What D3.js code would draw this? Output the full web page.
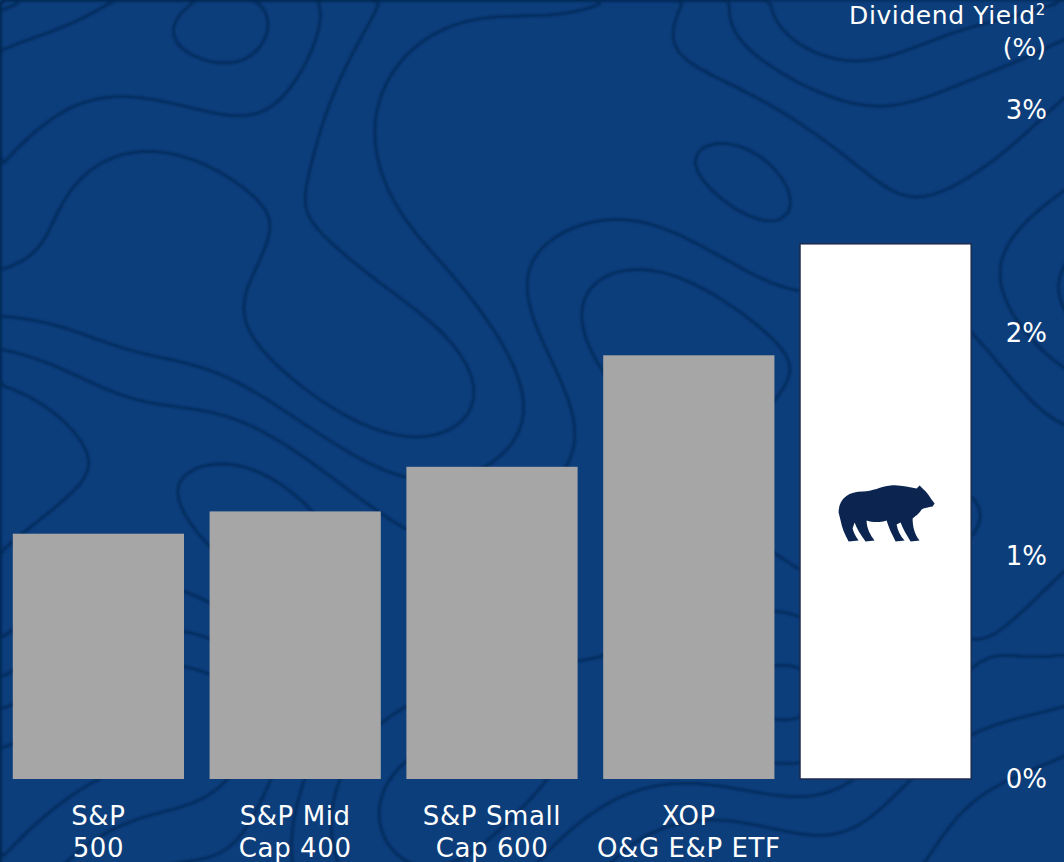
<!DOCTYPE html>
<html>
<head>
<meta charset="utf-8">
<script src="https://cdn.jsdelivr.net/npm/d3@7"></script>
<style>
  html, body { margin: 0; padding: 0; background: #0c3e7c; }
  svg { display: block; }
  text { font-family: "DejaVu Sans", "Noto Sans", sans-serif; fill: #ffffff; }
</style>
</head>
<body>
<svg id="chart" width="1064" height="862"></svg>
<script>
// ---- Data ----
const categories = ["S&P 500", "S&P Mid Cap 400", "S&P Small Cap 600", "XOP O&G E&P ETF", "Highlight"];
const labelLines = [["S&P", "500"], ["S&P Mid", "Cap 400"], ["S&P Small", "Cap 600"], ["XOP", "O&G E&P ETF"], ["", ""]];
const yieldValues = [1.1, 1.2, 1.4, 1.9, 2.4];
const tickValues = [0, 1, 2, 3];
const tickLabels = ["0%", "1%", "2%", "3%"];

const W = 1064, H = 862;
const FONT = "\"DejaVu Sans\", \"Noto Sans\", sans-serif";
const svg = d3.select("#chart");

// ---- Background with decorative topographic contours ----
svg.append("rect").attr("width", W).attr("height", H).attr("fill", "#0c3e7c");
const defs = svg.append("defs");
defs.append("filter").attr("id", "soft")
  .append("feGaussianBlur").attr("stdDeviation", 0.9);
(function () {
  const nx = 134, ny = 109, cell = 8;
  const vals = new Array(nx * ny);
  for (let j = 0; j < ny; j++) {
    for (let i = 0; i < nx; i++) {
      const x = i * cell, y = j * cell;
      vals[j * nx + i] =
        Math.sin(x * 0.006 + Math.sin(y * 0.009) * 1.8) +
        Math.cos(y * 0.008 - x * 0.003 + Math.sin(x * 0.012) * 0.9) * 0.9 +
        Math.sin((x + y) * 0.004) * 0.6;
    }
  }
  const contours = d3.contours().size([nx, ny]).thresholds(d3.range(-2.0, 2.4, 0.6))(vals);
  svg.append("g")
    .attr("filter", "url(#soft)")
    .append("g")
    .attr("transform", `scale(${cell})`)
    .selectAll("path")
    .data(contours)
    .join("path")
    .attr("d", d3.geoPath())
    .attr("fill", "none")
    .attr("stroke", "#072a55")
    .attr("stroke-opacity", 0.75)
    .attr("stroke-width", 3.2 / cell);
})();

// ---- Scales ----
const x = d3.scaleBand()
  .domain(categories)
  .range([0, 984])
  .paddingInner(0.13)
  .paddingOuter(0.065);

const y = d3.scaleLinear().domain([0, 3]).range([779, 110]);

// ---- Bars ----
const bars = svg.append("g");
bars.selectAll("rect")
  .data(categories)
  .join("rect")
  .attr("x", d => x(d))
  .attr("y", (d, i) => y(yieldValues[i]))
  .attr("width", x.bandwidth())
  .attr("height", (d, i) => y(0) - y(yieldValues[i]))
  .attr("fill", (d, i) => i === categories.length - 1 ? "#ffffff" : "#a6a6a6")
  .attr("stroke", (d, i) => i === categories.length - 1 ? "#1b2b4d" : "none")
  .attr("stroke-width", 1.5);

// ---- Bear icon inside highlighted bar ----
const last = categories[categories.length - 1];
const bx = x(last) + x.bandwidth() / 2 - 47;
const by = y(yieldValues[yieldValues.length - 1] / 2) - 27;
svg.append("path")
  .attr("transform", `translate(${bx},${by})`)
  .attr("fill", "#0b2550")
  .attr("d", "M0,28 C0,14 10,7 24,7 C34,7 42,2 52,1 C62,0 70,3 78,4 L81,1 L85,5 C89,8 92,14 96,19 L94,22 C90,23 86,23 83,25 C80,30 76,32 74,34 C74,42 76,50 81,56 L72,57 C68,50 64,44 62,38 L58,40 C59,46 62,52 66,56 L57,57 C53,49 50,43 48,36 C42,38 34,38 28,36 C28,44 32,51 36,56 L27,57 C22,50 18,44 16,38 L14,44 C15,48 17,52 20,56 L10,57 C6,50 3,42 2,36 Z");

// ---- Category labels ----
const lab = svg.append("g");
categories.forEach((c, i) => {
  const cx = x(c) + x.bandwidth() / 2;
  const t = lab.append("text")
    .attr("x", cx)
    .attr("y", 825)
    .attr("text-anchor", "middle")
    .attr("font-size", 26)
    .attr("letter-spacing", 0.6);
  t.append("tspan").attr("x", cx).text(labelLines[i][0]);
  t.append("tspan").attr("x", cx).attr("dy", 32).text(labelLines[i][1]);
});

// ---- Right axis ----
const axis = d3.axisRight(y)
  .tickValues(tickValues)
  .tickFormat((d, i) => tickLabels[i])
  .tickSize(0);
const ag = svg.append("g").attr("transform", "translate(1047,0)").call(axis);
ag.select(".domain").remove();
ag.selectAll("text")
  .attr("x", 0)
  .attr("text-anchor", "end")
  .attr("fill", "#ffffff")
  .attr("font-size", 26)
  .attr("font-family", FONT);

// ---- Axis title ----
const title = svg.append("text")
  .attr("x", 1046).attr("y", 24)
  .attr("text-anchor", "end")
  .attr("font-size", 25)
  .attr("letter-spacing", 0.6);
title.append("tspan").text("Dividend Yield");
title.append("tspan").attr("dy", -9).attr("font-size", 15).text("2");
svg.append("text")
  .attr("x", 1046).attr("y", 56)
  .attr("text-anchor", "end")
  .attr("font-size", 25)
  .text("(%)");
</script>
</body>
</html>
